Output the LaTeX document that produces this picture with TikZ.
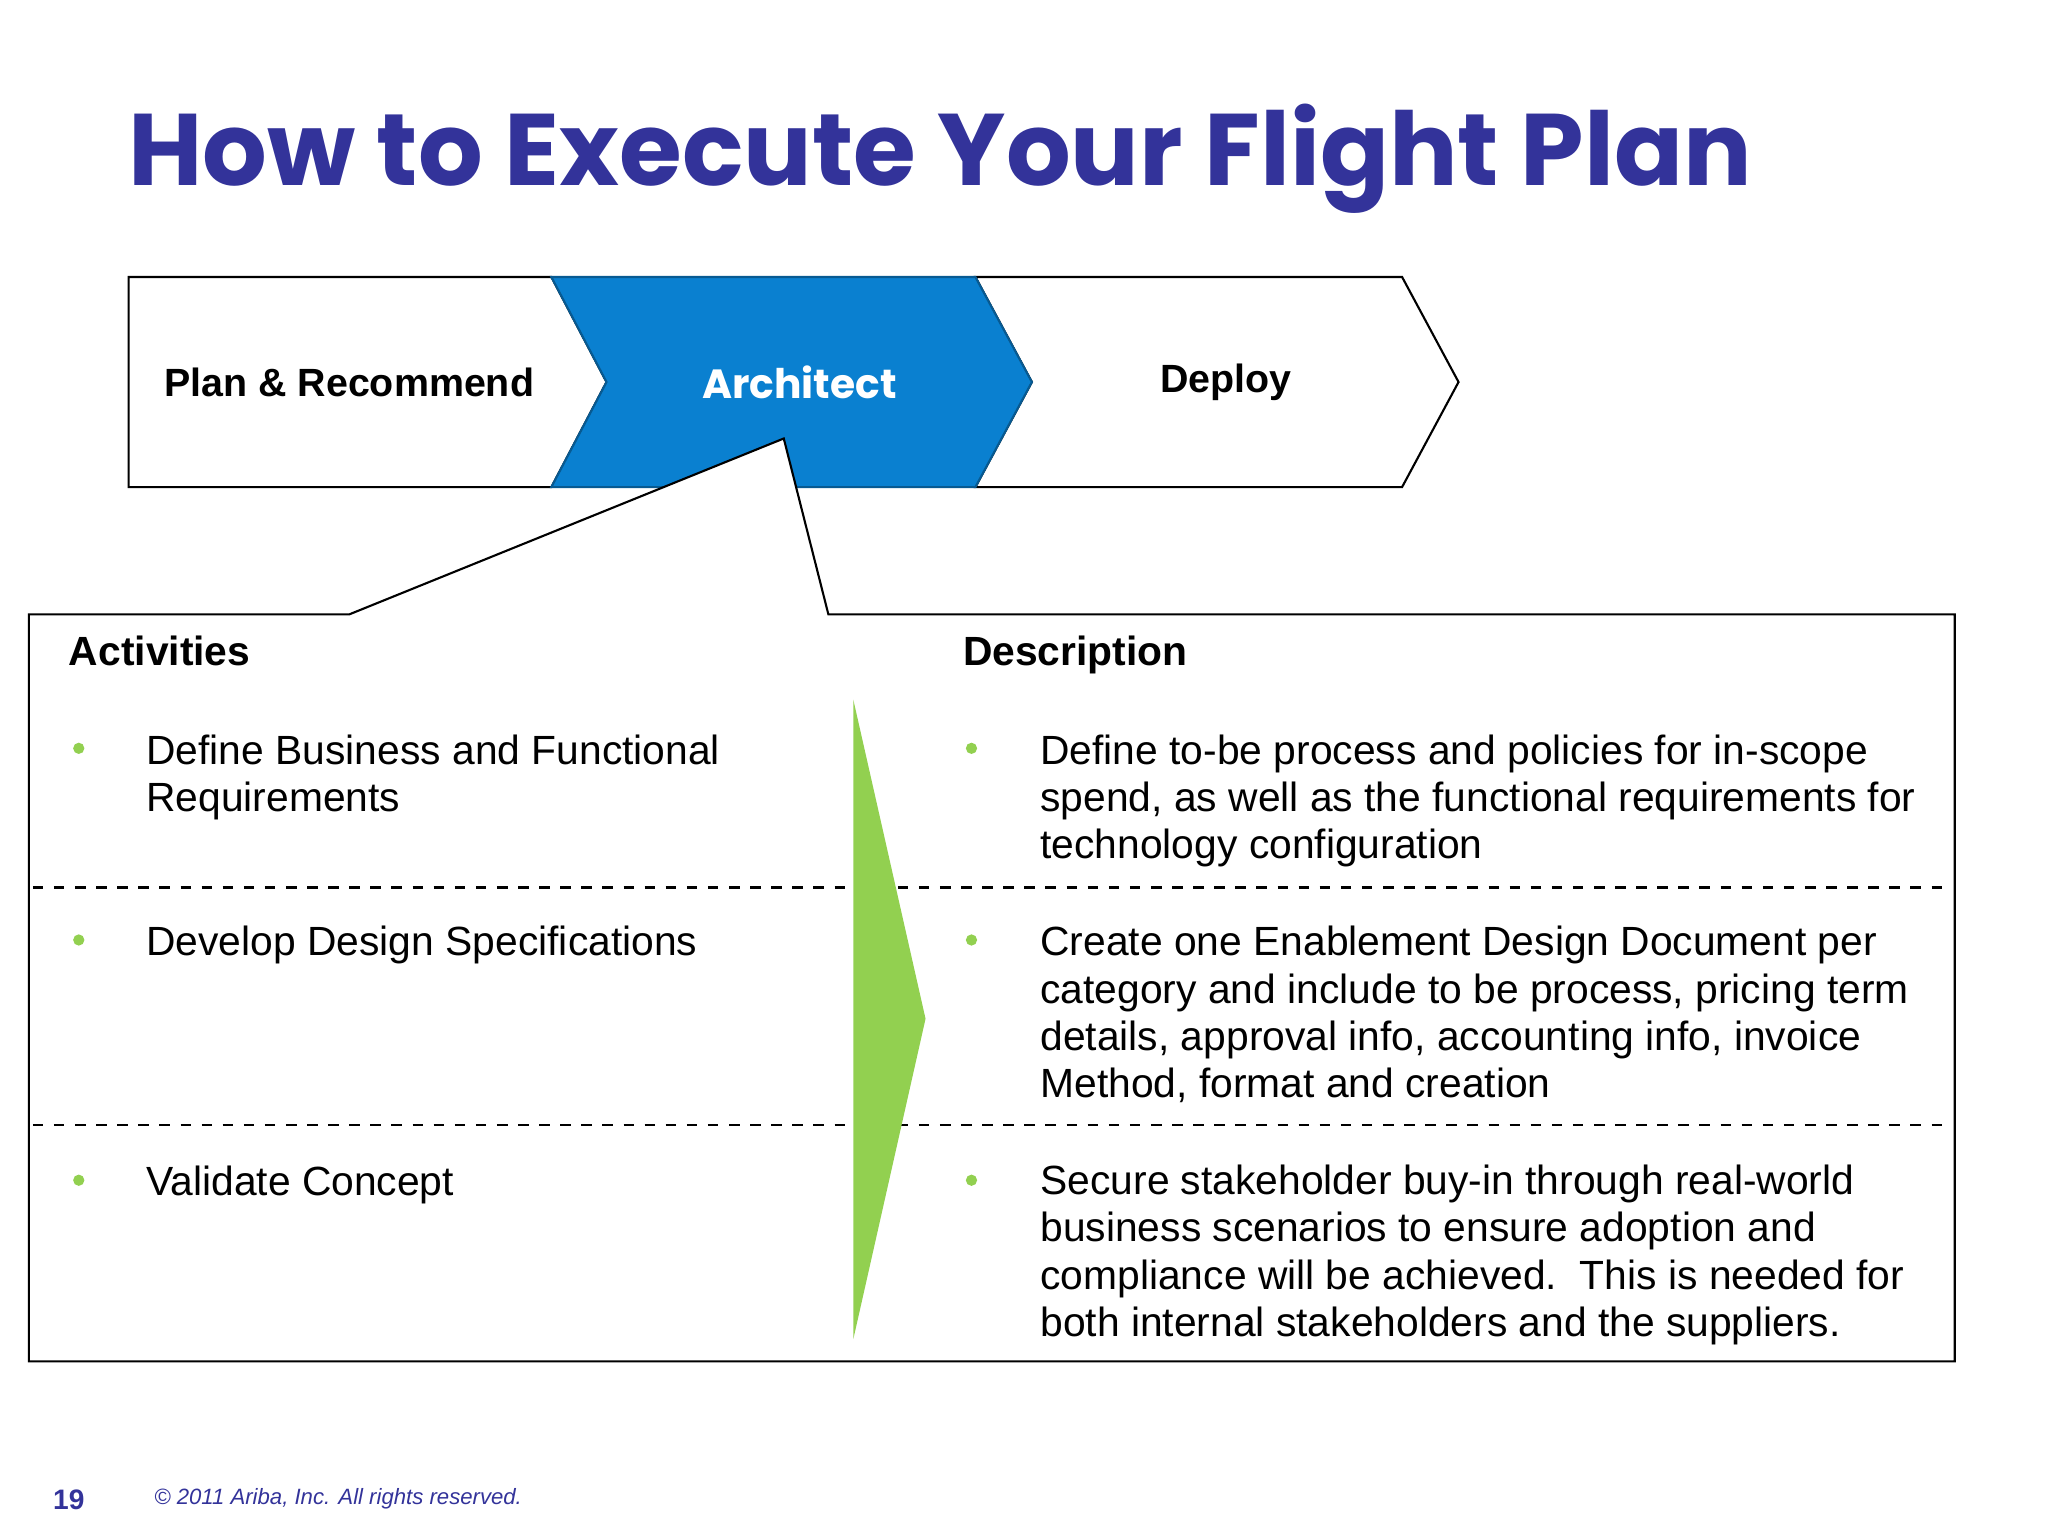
\documentclass[tikz,border=0pt]{standalone}
\usepackage{fontspec}
\setmainfont{Liberation Sans}
\newfontfamily\heavy{Poppins}[UprightFont=* Bold]
\newcommand{\ptext}[1]{\parbox[t]{12cm}{\raggedright\fontsize{11.6}{13.45}\selectfont #1}}
\begin{document}
\definecolor{ttl}{HTML}{33339A}
\definecolor{blu}{HTML}{0A80D0}
\definecolor{grn}{HTML}{92D050}
\begin{tikzpicture}[x=0.013128cm,y=-0.013128cm,
  body/.style={anchor=base west,inner sep=0},
  head/.style={anchor=base west,inner sep=0,font=\fontsize{11.6}{13.45}\selectfont\bfseries},
  dot/.style={circle,fill=grn,inner sep=0,minimum size=3.2pt},
  chev/.style={draw=black,line width=0.6pt},
  lab/.style={font=\fontsize{11.2}{13}\selectfont\bfseries}]
\useasboundingbox (0,0) rectangle (1560,1170);
\node[anchor=base west,inner sep=0,text=ttl] (title) at (97,141)
  {\resizebox{16.23cm}{!}{\heavy How to Execute Your Flight Plan}};
% chevrons
\draw[chev,fill=white] (98,211) -- (420,211) -- (462,291) -- (420,371) -- (98,371) -- cycle;
\draw[chev,fill=white] (743,211) -- (1068,211) -- (1111,291) -- (1068,371) -- (743,371) -- (786,291) -- cycle;
\draw[chev,fill=blu,draw=blu!70!black] (420,211) -- (743,211) -- (786,291) -- (743,371) -- (420,371) -- (462,291) -- cycle;
\node[lab] (p) at (266,291) {Plan \& Recommend};
\node[lab,text=white,font=\fontsize{11.6}{13}\selectfont\heavy] (a) at (609,291) {Architect};
\node[lab] (d) at (934,291) {Deploy};
% callout
\draw[line width=0.6pt,fill=white] (266,468) -- (597,334) -- (631,468) -- (1489,468) -- (1489,1037) -- (22,1037) -- (22,468) -- cycle;
\draw[dashed,line width=0.6pt] (25,676) -- (1487,676);
\draw[dashed,line width=0.6pt] (25,857) -- (1487,857);
\fill[grn] (650,533) -- (705,776) -- (650,1020) -- cycle;
\node[head] (h1) at (52,507) {Activities};
\node[head] (h2) at (733,507) {Description};
\foreach \y in {570,716,899}{\node[dot] at (60,\y) {}; \node[dot] at (740,\y) {};}
\node[body] (a1) at (111,582) {\ptext{Define Business and Functional\\Requirements}};
\node[body] (a2) at (111,728) {\ptext{Develop Design Specifications}};
\node[body] (a3) at (111,911) {\ptext{Validate Concept}};
\node[body] (d1) at (792,582) {\ptext{Define to-be process and policies for in-scope\\spend, as well as the functional requirements for\\technology configuration}};
\node[body] (d2) at (792,728) {\ptext{Create one Enablement Design Document per\\category and include to be process, pricing term\\details, approval info, accounting info, invoice\\Method, format and creation}};
\node[body] (d3) at (792,910) {\ptext{Secure stakeholder buy-in through real-world\\business scenarios to ensure adoption and\\compliance will be achieved.\ \ This is needed for\\both internal stakeholders and the suppliers.}};
% footer
\node[anchor=base west,inner sep=0,text=ttl,font=\fontsize{8}{9}\selectfont\bfseries] (n) at (40,1150) {19};
\node[anchor=base west,inner sep=0,text=ttl,font=\fontsize{6.3}{8}\selectfont\itshape] (c) at (117,1146) {© 2011 Ariba, Inc. All rights reserved.};
\end{tikzpicture}
\end{document}
